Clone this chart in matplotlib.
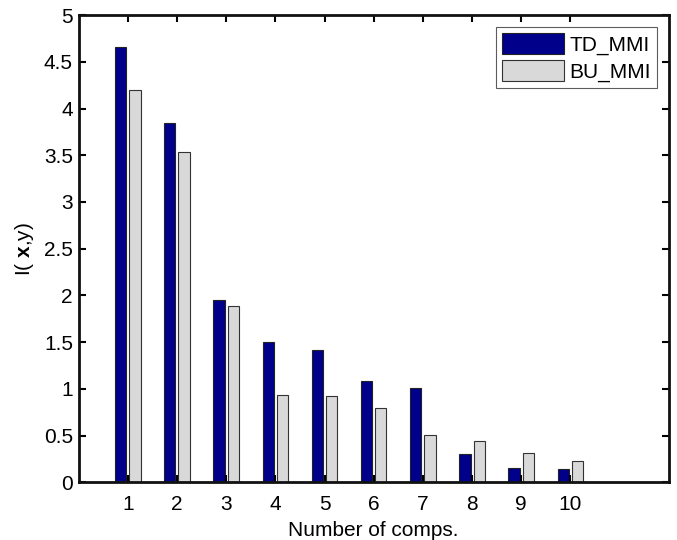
import numpy as np
import matplotlib
matplotlib.use("Agg")
import matplotlib.pyplot as plt

plt.rcParams['font.family'] = ['Liberation Sans', 'DejaVu Sans']
plt.rcParams['mathtext.fontset'] = 'custom'
plt.rcParams['mathtext.rm'] = 'Liberation Sans'
plt.rcParams['mathtext.bf'] = 'Liberation Sans:bold'

comps = [1, 2, 3, 4, 5, 6, 7, 8, 9, 10]
td_mmi = [4.66, 3.84, 1.95, 1.50, 1.42, 1.08, 1.01, 0.30, 0.15, 0.14]
bu_mmi = [4.20, 3.53, 1.89, 0.935, 0.92, 0.79, 0.505, 0.44, 0.31, 0.23]

x = np.array(comps)
w = 0.23

fig = plt.figure(figsize=(6.77, 5.4), dpi=100)
ax = fig.add_axes([0.116, 0.107, 0.872, 0.865])

ax.bar(x - 0.145, td_mmi, w, color='#00008b', edgecolor='#222222', linewidth=0.8, label='TD_MMI')
ax.bar(x + 0.145, bu_mmi, w, color='#d9d9d9', edgecolor='#333333', linewidth=0.8, label='BU_MMI')

ax.set_xlim(0, 12)
ax.set_ylim(0, 5)
ax.set_xticks(comps)
ax.set_yticks(np.arange(0, 5.01, 0.5))
ax.set_yticklabels(['0', '0.5', '1', '1.5', '2', '2.5', '3', '3.5', '4', '4.5', '5'])
ax.tick_params(direction='in', length=5, width=1.5, top=True, right=True, labelsize=15)
ax.tick_params(axis='x', pad=9)
ax.tick_params(axis='y', pad=4)
for s in ax.spines.values():
    s.set_linewidth(2)
    s.set_color('#111111')

ax.set_xlabel('Number of comps.', fontsize=15, labelpad=5)
ax.set_ylabel(r'I( $\mathbf{x}$,y)', fontsize=15, labelpad=6)

leg = ax.legend(loc='upper right', fontsize=15, fancybox=False, edgecolor='#333333',
                handlelength=3.0, handleheight=1.2, handletextpad=0.25, borderpad=0.3,
                labelspacing=0.25, borderaxespad=0.55)
leg.get_frame().set_linewidth(0.8)

fig.savefig('out.png', dpi=100)
